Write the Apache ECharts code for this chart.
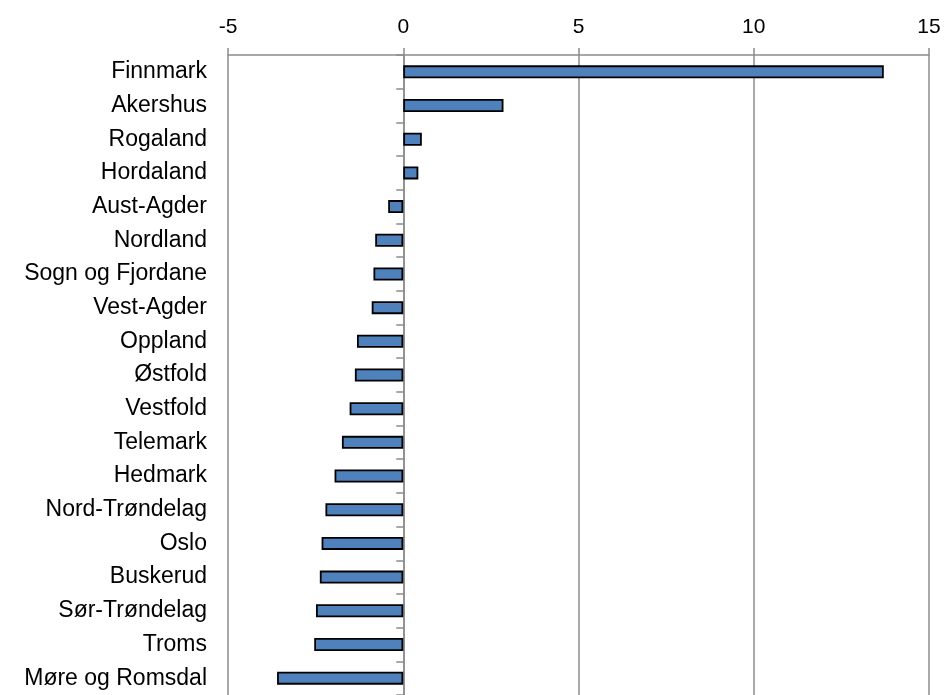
<!DOCTYPE html>
<html>
<head>
<meta charset="utf-8">
<script src="https://cdn.jsdelivr.net/npm/echarts@6/dist/echarts.min.js"></script>
<style>html,body{margin:0;padding:0;background:#fff}#c{width:949px;height:695px}</style>
</head>
<body>
<div id="c"></div>
<script>
const categories = ["Finnmark","Akershus","Rogaland","Hordaland","Aust-Agder","Nordland","Sogn og Fjordane","Vest-Agder","Oppland","Østfold","Vestfold","Telemark","Hedmark","Nord-Trøndelag","Oslo","Buskerud","Sør-Trøndelag","Troms","Møre og Romsdal"];
const values = [13.71, 2.86, 0.53, 0.43, -0.43, -0.80, -0.85, -0.90, -1.32, -1.38, -1.53, -1.75, -1.96, -2.22, -2.33, -2.38, -2.49, -2.54, -3.60];
const xTicks = {min: -5, max: 15, interval: 5};

const chart = echarts.init(document.getElementById('c'), null, {renderer: 'canvas'});
const gray = '#8c8c8c';
chart.setOption({
  animation: false,
  backgroundColor: '#fff',
  grid: {left: 228, top: 55, width: 701, height: 640, containLabel: false},
  xAxis: {
    type: 'value', position: 'top',
    min: xTicks.min, max: xTicks.max, interval: xTicks.interval,
    axisLine: {show: true, onZero: false, lineStyle: {color: gray, width: 1.5}},
    axisTick: {show: true, length: 7, lineStyle: {color: gray, width: 1.5}},
    splitLine: {show: true, lineStyle: {color: gray, width: 1.5}},
    axisLabel: {color: '#000', fontFamily: 'Liberation Sans, Arial', fontSize: 21, margin: 17}
  },
  yAxis: [{
    type: 'category', data: categories, inverse: true, position: 'left',
    axisLine: {show: false, onZero: false}, axisTick: {show: false},
    axisLabel: {color: '#000', fontFamily: 'Liberation Sans, Arial', fontSize: 23, margin: 21}
  }, {
    type: 'category', data: categories, inverse: true, position: 'left', offset: 0,
    axisLine: {show: true, onZero: true, onZeroAxisIndex: 0, lineStyle: {color: gray, width: 1.5}},
    axisTick: {show: true, length: 7, lineStyle: {color: gray, width: 1.5}},
    axisLabel: {show: false}
  }],
  series: [{
    type: 'bar', data: values, yAxisIndex: 0,
    barWidth: 13,
    itemStyle: {color: '#4F81BD', borderColor: '#000', borderWidth: 1.8}
  }]
});
</script>
</body>
</html>
